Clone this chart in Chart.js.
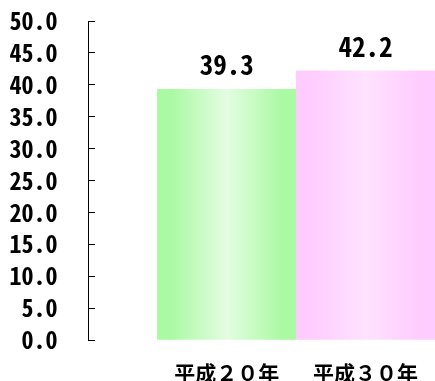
<!DOCTYPE html>
<html><head><meta charset="utf-8">
<script src="https://cdn.jsdelivr.net/npm/chart.js@4/dist/chart.umd.min.js"></script>
<style>html,body{margin:0;padding:0;background:#fff;}canvas{display:block;}</style>
</head><body>
<canvas id="c" width="435" height="381"></canvas>
<script>
const categories = ['平成２０年', '平成３０年'];
const values = [39.3, 42.2];
const yMin = 0, yMax = 50, yStep = 5;

const numFont = "'Noto Sans Mono CJK JP', 'Liberation Sans Narrow', sans-serif";
const cjkFont = "'Noto Sans CJK JP', sans-serif";
const edgeCols = ['rgb(170,249,163)', 'rgb(254,204,254)'];
const midCols = ['rgb(228,253,226)', 'rgb(254,226,254)'];

function barFill(ctx) {
  const chart = ctx.chart;
  const i = ctx.dataIndex || 0;
  const xs = chart.scales && chart.scales.x;
  if (!chart.chartArea || !xs) return edgeCols[i];
  const half = Math.abs(xs.getPixelForValue(1) - xs.getPixelForValue(0)) / 2;
  const cx = xs.getPixelForValue(i + 1);
  const g = chart.ctx.createLinearGradient(cx - half, 0, cx + half, 0);
  g.addColorStop(0, edgeCols[i]);
  g.addColorStop(0.1, edgeCols[i]);
  g.addColorStop(0.5, midCols[i]);
  g.addColorStop(0.9, edgeCols[i]);
  g.addColorStop(1, edgeCols[i]);
  return g;
}

const valueLabels = {
  id: 'valueLabels',
  afterDatasetsDraw(chart) {
    const c = chart.ctx;
    const meta = chart.getDatasetMeta(0);
    c.save();
    c.font = "bold 27px " + numFont;
    c.fillStyle = '#000';
    c.textAlign = 'center';
    c.textBaseline = 'alphabetic';
    meta.data.forEach((el, i) => {
      c.fillText(values[i].toFixed(1), el.x, el.y - 14);
    });
    c.restore();
  }
};

new Chart(document.getElementById('c'), {
  type: 'bar',
  data: {
    datasets: [{
      data: values.map((v, i) => ({x: i + 1, y: v})),
      backgroundColor: barFill,
      borderWidth: 0,
      categoryPercentage: 1,
      barPercentage: 1
    }]
  },
  options: {
    responsive: false,
    animation: false,
    devicePixelRatio: 1,
    layout: {padding: {top: 21, left: 0, right: 0, bottom: 0}},
    plugins: {legend: {display: false}, tooltip: {enabled: false}},
    scales: {
      x: {
        type: 'linear',
        offset: false,
        min: 0,
        max: 2.5,
        grid: {display: false, drawTicks: false},
        border: {display: false},
        afterBuildTicks: s => { s.ticks = categories.map((c, i) => ({value: i + 1})); },
        afterFit: s => { s.height = 41; s.paddingLeft = 0; s.paddingRight = 0; },
        ticks: {
          autoSkip: false,
          maxRotation: 0,
          padding: 20,
          color: '#000',
          font: {family: cjkFont, size: 21, weight: 'bold'},
          callback: v => categories[v - 1] ?? ''
        }
      },
      y: {
        min: yMin,
        max: yMax,
        afterFit: s => { s.width = 88; s.paddingTop = 0; s.paddingBottom = 0; },
        grid: {drawOnChartArea: false, tickLength: -7, color: '#000', lineWidth: 1},
        border: {display: true, color: '#000', width: 1},
        ticks: {
          stepSize: yStep,
          padding: 37.5,
          color: '#000',
          font: {family: numFont, size: 24, weight: 'bold'},
          callback: v => Number(v).toFixed(1)
        }
      }
    }
  },
  plugins: [valueLabels]
});
</script>
</body></html>
